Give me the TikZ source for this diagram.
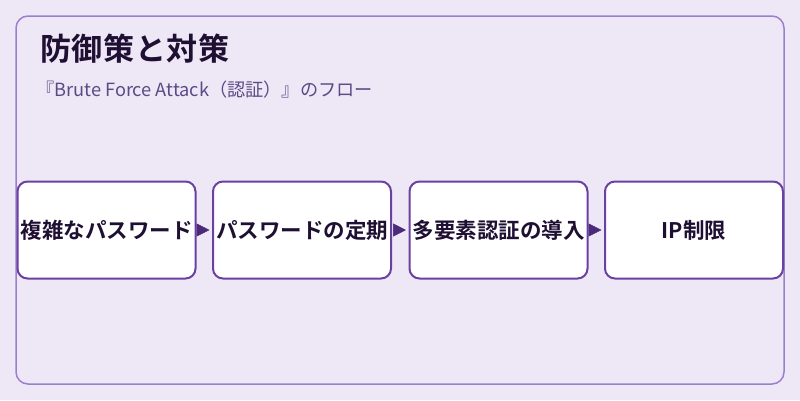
\documentclass[tikz,border=0pt]{standalone}
\usepackage{fontspec}
\setmainfont{Noto Sans CJK JP}[BoldFont={Noto Sans CJK JP Bold}]
\usetikzlibrary{arrows.meta}
\definecolor{bg}{HTML}{EEE7F6}
\definecolor{frame}{HTML}{9C7FCC}
\definecolor{boxline}{HTML}{6B40A3}
\definecolor{tip}{HTML}{4B2A7A}
\definecolor{titlec}{HTML}{1E0F33}
\definecolor{subc}{HTML}{5B4A85}
\tikzset{
  stepbox/.style={draw=boxline, line width=2pt, fill=white, rounded corners=10pt,
    minimum width=178pt, minimum height=97pt, inner sep=0pt,
    font=\fontsize{21.5}{26}\selectfont\bfseries, text=titlec},
  flow/.style={draw=tip, fill=tip, line width=0.5pt, shorten >=2.5pt, shorten <=2pt,
    -{Triangle[length=13pt,width=13pt]}}
}
\begin{document}
\begin{tikzpicture}[x=1pt,y=-1pt]
\useasboundingbox (0,0) rectangle (800,400);
\fill[bg] (0,0) rectangle (800,400);
\draw[frame, line width=1.5pt, rounded corners=12pt] (16,16) rectangle (784,384);
\node[anchor=base west, inner sep=0pt, font=\fontsize{31}{36}\selectfont\bfseries\addfontfeatures{LetterSpace=2}, text=titlec] (title) at (40,60) {防御策と対策};
\node[anchor=base west, inner sep=0pt, font=\fontsize{18.2}{22}\selectfont, text=subc] (sub) at (36,96) {『Brute Force Attack（認証）』のフロー};
\node[stepbox] (b1) at (106.5,230) {複雑なパスワード};
\node[stepbox] (b2) at (302,230) {パスワードの定期};
\node[stepbox] (b3) at (498.5,230) {多要素認証の導入};
\node[stepbox] (b4) at (694,230) {IP制限};
\draw[flow] (b1.east) -- (b2.west);
\draw[flow] (b2.east) -- (b3.west);
\draw[flow] (b3.east) -- (b4.west);
\end{tikzpicture}
\end{document}
